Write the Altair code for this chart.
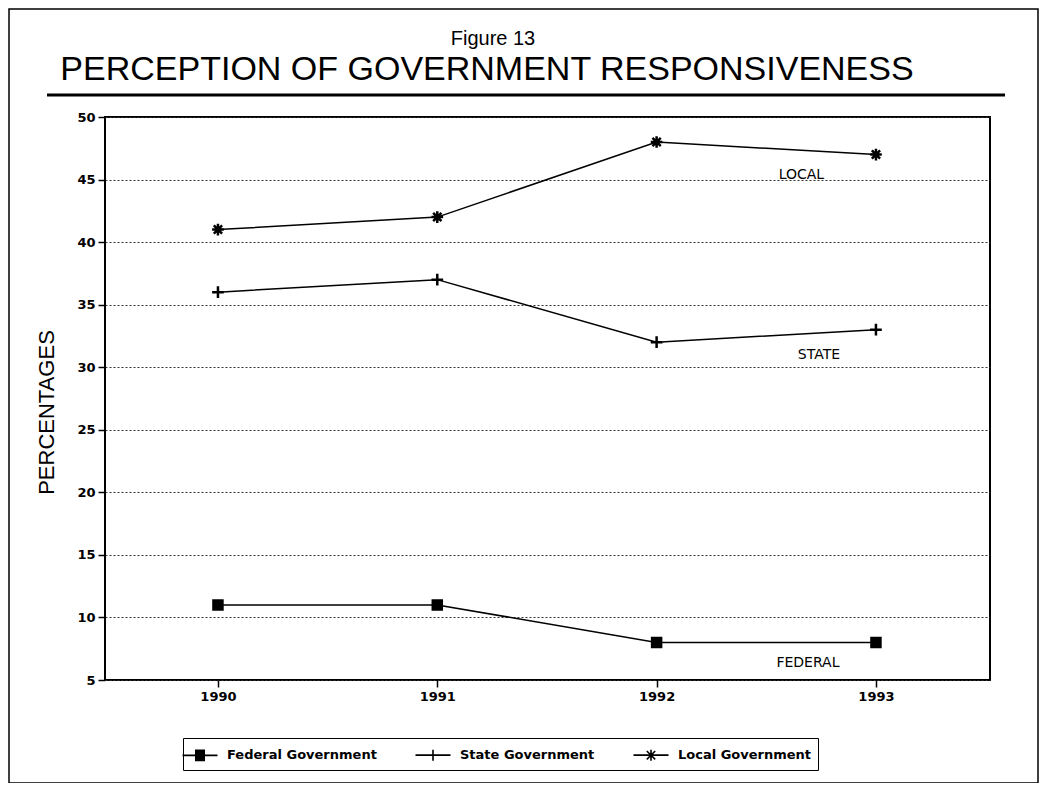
import altair as alt
import pandas as pd

years = [1990, 1991, 1992, 1993]
series_names = ["Federal Government", "State Government", "Local Government"]
federal = [11, 11, 8, 8]
state = [36, 37, 32, 33]
local = [41, 42, 48, 47]
y_ticks = [5, 10, 15, 20, 25, 30, 35, 40, 45, 50]

label_text = ["LOCAL", "STATE", "FEDERAL"]
label_x = [1992.66, 1992.74, 1992.69]
label_y = [45.4, 31.0, 6.35]

rows = []
for name, vals in zip(series_names, [federal, state, local]):
    for yr, v in zip(years, vals):
        rows.append({"year": yr, "value": v, "series": name})
df = pd.DataFrame(rows)
labels_df = pd.DataFrame({"text": label_text, "x": label_x, "y": label_y})

FONT = "Liberation Sans"
WIDE = "DejaVu Sans"
xscale = alt.Scale(domain=[1989.485, 1993.52], nice=False, zero=False)
yscale = alt.Scale(domain=[5, 50], nice=False, zero=False)

x_enc = alt.X("year:Q", scale=xscale,
              axis=alt.Axis(values=years, format="d", title=None, grid=False, domain=False,
                            tickSize=7, tickWidth=1.5, tickColor="black",
                            labelFont=WIDE, labelFontSize=13, labelFontWeight="bold",
                            labelColor="black", labelPadding=3))
y_enc = alt.Y("value:Q", scale=yscale,
              axis=alt.Axis(values=y_ticks, title="PERCENTAGES", domain=False,
                            tickSize=7, tickWidth=1.5, tickColor="black",
                            labelFont=WIDE, labelFontSize=13, labelFontWeight="bold",
                            labelColor="black", labelPadding=3,
                            grid=True, gridDash=[2, 2], gridColor="#333333", gridWidth=1,
                            titleFont=FONT, titleFontSize=22, titleFontWeight="normal",
                            titleColor="black", titleAngle=-90, titleX=-52, titleY=295,
                            titleAlign="center", titleBaseline="alphabetic"))

base = alt.Chart(df)

lines = base.mark_line(color="black", strokeWidth=1.5).encode(
    x=x_enc, y=y_enc, detail="series:N")

# marker paths (size 324 -> half-width 9px)
square = "M-0.5,-0.5H0.5V0.5H-0.5Z"
plus = "M-0.65,0H0.65M0,-0.65V0.65"
aster = "M-0.65,0H0.65M0,-0.65V0.65M-0.46,-0.46L0.46,0.46M-0.46,0.46L0.46,-0.46"

points = base.mark_point(filled=True, color="black", stroke="black", strokeWidth=2.5,
                         size=324, opacity=1).encode(
    x="year:Q", y="value:Q",
    shape=alt.Shape("series:N", scale=alt.Scale(domain=series_names, range=[square, plus, aster]),
                    legend=None))

# legend symbols: line stub with marker, drawn with strokes only (size 400 -> half-width 10px)
hatch = "".join("M-0.5,%.1fH0.5" % (v / 10) for v in range(-5, 6))
lsquare = "M-1.75,0H1.75" + hatch
lplus = "M-1.75,0H1.75M0,-0.55V0.55M-0.55,0H0.55"
laster = "M-1.75,0H1.75M0,-0.55V0.55M-0.42,-0.42L0.42,0.42M-0.42,0.42L0.42,-0.42"

legend_layer = alt.Chart(df).transform_filter("false").mark_point(
    filled=False, color="black", stroke="black", strokeWidth=1.6, size=400, opacity=1).encode(
    x="year:Q", y="value:Q",
    shape=alt.Shape("series:N",
                    scale=alt.Scale(domain=series_names, range=[lsquare, lplus, laster]),
                    legend=alt.Legend(title=None, orient="none", legendX=78, legendY=621,
                                      direction="horizontal", symbolSize=400,
                                      symbolStrokeWidth=1.6, symbolStrokeColor="black",
                                      labelFont=WIDE, labelFontSize=13, labelFontWeight="bold",
                                      labelColor="black", labelOffset=16, columnPadding=35,
                                      padding=6, strokeColor="black",
                                      fillColor="white")))

annot = alt.Chart(labels_df).mark_text(font=WIDE, fontSize=14, color="black").encode(
    x="x:Q", y="y:Q", text="text:N")

one = pd.DataFrame({"a": [0]})
fig_title = alt.Chart(one).mark_text(font=FONT, fontSize=20, color="black", align="center",
                                     baseline="alphabetic").encode(
    x=alt.value(388), y=alt.value(-72), text=alt.value("Figure 13"))
main_title = alt.Chart(one).mark_text(font=FONT, fontSize=34, color="black", align="center",
                                      baseline="alphabetic").encode(
    x=alt.value(382), y=alt.value(-37), text=alt.value("PERCEPTION OF GOVERNMENT RESPONSIVENESS"))
title_rule = alt.Chart(one).mark_rule(color="black", strokeWidth=3).encode(
    x=alt.value(-58), x2=alt.value(900), y=alt.value(-22))
frame = alt.Chart(one).mark_rect(fill=None, stroke="black", strokeWidth=1.5).encode(
    x=alt.value(-96), x2=alt.value(933), y=alt.value(-108), y2=alt.value(666))

chart = alt.layer(frame, title_rule, fig_title, main_title, lines, points, legend_layer, annot).resolve_scale(
    shape="independent").properties(
    width=885, height=563,
    padding={"left": 97, "top": 109, "right": 49, "bottom": 103},
    autosize=alt.AutoSizeParams(type="none"),
    background="white",
).configure_view(stroke="black", strokeWidth=2)

chart.save("out.html", embed_options={"renderer": "svg", "actions": False})
